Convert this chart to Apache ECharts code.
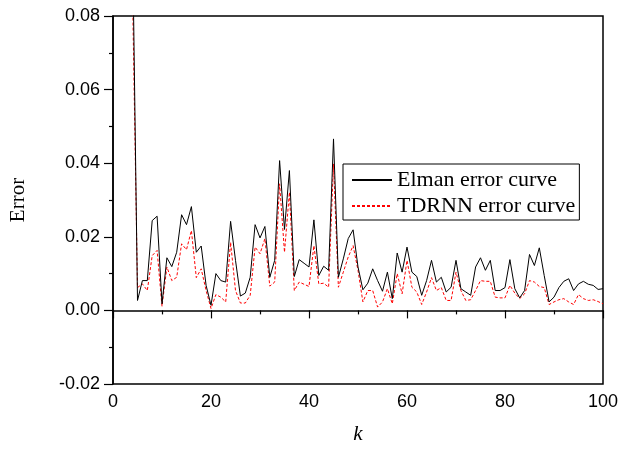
<!DOCTYPE html>
<html>
<head>
<meta charset="utf-8">
<script src="https://cdn.jsdelivr.net/npm/echarts@6/dist/echarts.min.js"></script>
<style>
  html, body { margin: 0; padding: 0; background: #fff; }
  #errorchart { width: 622px; height: 451px; }
</style>
</head>
<body>
<div id="errorchart"></div>
<script>
// first sample index k, every next value is k+1
var startK = 4;

var elmanErr = [
    0.1, 0.0027, 0.0081, 0.0081, 0.0244, 0.0256, 0.0018, 0.0143, 0.0119, 0.0158,
    0.026, 0.0233, 0.0282, 0.0158, 0.0175, 0.0068, 0.0014, 0.01, 0.0081, 0.0077,
    0.0242, 0.0136, 0.0039, 0.0047, 0.009, 0.0233, 0.0197, 0.0228, 0.009, 0.0136,
    0.0407, 0.022, 0.038, 0.0092, 0.0138, 0.0128, 0.0118, 0.0246, 0.0095, 0.012,
    0.0109, 0.0466, 0.009, 0.014, 0.0195, 0.0219, 0.0118, 0.0056, 0.0074, 0.0113,
    0.0081, 0.0052, 0.0104, 0.0032, 0.0156, 0.0104, 0.0172, 0.0104, 0.0092, 0.0041,
    0.0081, 0.0136, 0.0077, 0.009, 0.005, 0.0063, 0.0136, 0.0059, 0.005, 0.0041,
    0.0118, 0.0143, 0.0109, 0.0136, 0.0054, 0.0054, 0.0062, 0.0138, 0.0059, 0.0034,
    0.0054, 0.0152, 0.0122, 0.017, 0.0095, 0.0023, 0.0036, 0.0062, 0.0079, 0.0086,
    0.0054, 0.0072, 0.0079, 0.0071, 0.0068, 0.0057, 0.0059
];

var tdrnnErr = [
    0.085, 0.0062, 0.0072, 0.0054, 0.0149, 0.0163, 0.0011, 0.0118, 0.0081, 0.009,
    0.0181, 0.0165, 0.0217, 0.0089, 0.0113, 0.0054, 0.0005, 0.0043, 0.0036, 0.0023,
    0.0185, 0.0054, 0.002, 0.002, 0.0041, 0.0172, 0.0154, 0.0195, 0.0066, 0.0077,
    0.0344, 0.0158, 0.0321, 0.0054, 0.0077, 0.0071, 0.0065, 0.0176, 0.0072, 0.0074,
    0.0063, 0.0398, 0.0063, 0.0104, 0.0145, 0.0176, 0.0109, 0.0023, 0.0054, 0.0054,
    0.0009, 0.0023, 0.0059, 0.0018, 0.01, 0.0045, 0.0136, 0.0063, 0.005, 0.0016,
    0.005, 0.0089, 0.0054, 0.0062, 0.0027, 0.0027, 0.0104, 0.0054, 0.0027, 0.0029,
    0.0054, 0.0081, 0.0079, 0.0079, 0.0036, 0.0034, 0.0034, 0.0068, 0.0047, 0.0032,
    0.0045, 0.0081, 0.0077, 0.0065, 0.0062, 0.0016, 0.0023, 0.0029, 0.0032, 0.0023,
    0.0016, 0.0043, 0.0032, 0.0027, 0.0029, 0.0024, 0.0018
];

function toPairs(values) {
    return values.map(function (v, i) { return [startK + i, v]; });
}

var errorChart = echarts.init(document.getElementById('errorchart'));

var axisFont = { fontFamily: 'Liberation Sans', fontSize: 18, color: '#000' };

option_error = {
    animation: false,
    backgroundColor: '#fff',
    grid: {
        left: 110, right: 19, top: 16, bottom: 67,
        show: true, borderColor: '#000', borderWidth: 1.5
    },
    legend: {
        orient: 'vertical',
        left: 343, top: 164,
        padding: [5, 4, 3, 8],
        itemGap: 4,
        itemWidth: 40,
        itemHeight: 14,
        borderColor: '#000',
        borderWidth: 1,
        backgroundColor: '#fff',
        itemStyle: { opacity: 0 },
        textStyle: { fontFamily: 'Liberation Serif', fontSize: 22, color: '#000' },
        data: ['Elman error curve', 'TDRNN error curve']
    },
    xAxis: {
        type: 'value',
        min: 0, max: 100, interval: 20,
        name: 'k',
        nameLocation: 'middle',
        nameGap: 40,
        nameTextStyle: { fontFamily: 'Liberation Serif', fontSize: 21, fontStyle: 'italic', color: '#000' },
        axisLine: { lineStyle: { color: '#000', width: 1.5 } },
        axisTick: { length: 8, lineStyle: { color: '#000', width: 1.2 } },
        minorTick: { show: true, splitNumber: 2, length: 4, lineStyle: { color: '#000', width: 1.2 } },
        splitLine: { show: false },
        axisLabel: Object.assign({ margin: 9 }, axisFont)
    },
    yAxis: {
        type: 'value',
        min: -0.02, max: 0.08, interval: 0.02,
        name: 'Error',
        nameLocation: 'middle',
        nameGap: 84,
        nameTextStyle: { fontFamily: 'Liberation Serif', fontSize: 21, color: '#000' },
        axisLine: { show: true, lineStyle: { color: '#000', width: 1.5 } },
        axisTick: { show: true, length: 9, lineStyle: { color: '#000', width: 1.2 } },
        minorTick: { show: true, splitNumber: 2, length: 4, lineStyle: { color: '#000', width: 1.2 } },
        splitLine: { show: false },
        axisLabel: Object.assign({
            margin: 13,
            formatter: function (v) { return v.toFixed(2); }
        }, axisFont)
    },
    series: [{
        name: 'Elman error curve',
        type: 'line',
        data: toPairs(elmanErr),
        symbol: 'none',
        color: '#000',
        lineStyle: { color: '#000', width: 1 },
        z: 3
    }, {
        name: 'TDRNN error curve',
        type: 'line',
        data: toPairs(tdrnnErr),
        symbol: 'none',
        color: '#ff0000',
        lineStyle: { color: '#ff0000', width: 1, type: [3, 2] },
        z: 2
    }]
};
errorChart.setOption(option_error);

window.addEventListener('resize', errorChart.resize);
</script>
</body>
</html>
